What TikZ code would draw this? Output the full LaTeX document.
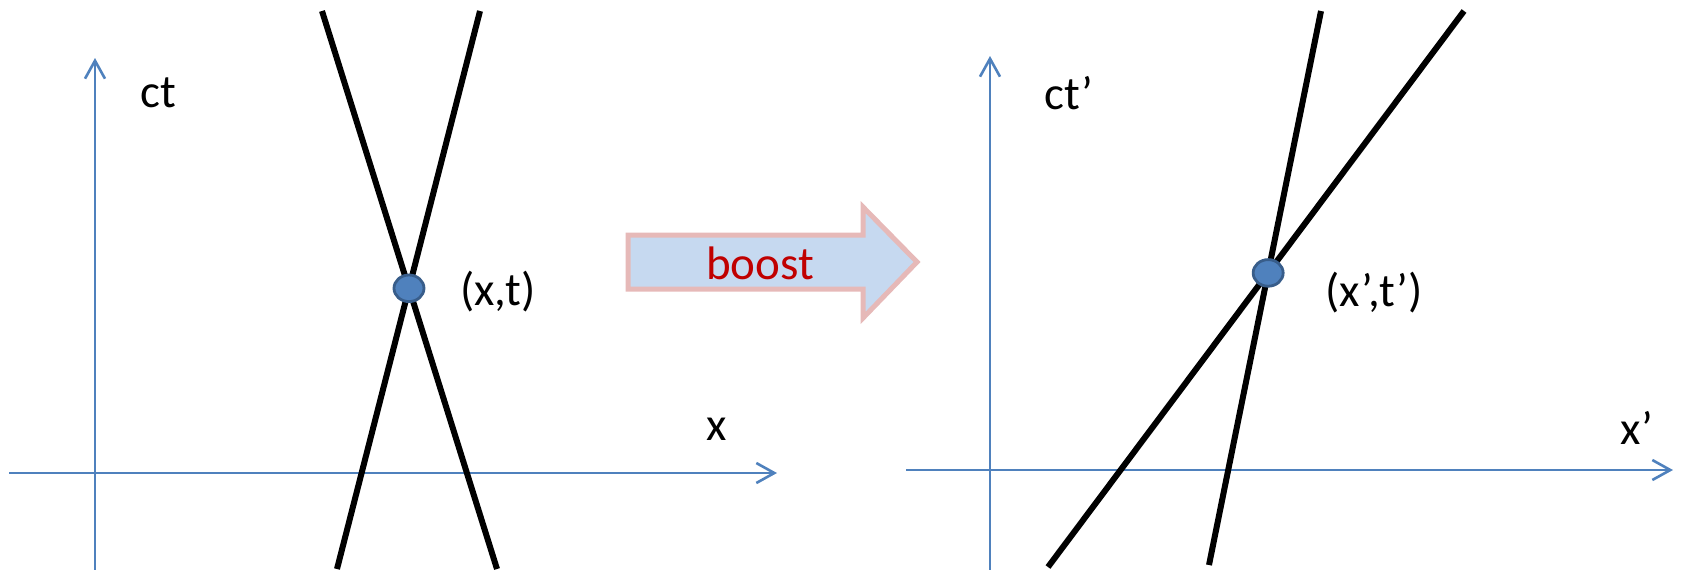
\documentclass[tikz,border=0pt]{standalone}
\usepackage{fontspec}
\setmainfont{Carlito}
\usepackage{tikz}
\usetikzlibrary{arrows.meta,calc,positioning,shapes.geometric}
\definecolor{axisBlue}{HTML}{4F81BD}
\definecolor{dotEdge}{HTML}{385D8A}
\definecolor{boostFill}{HTML}{C6D9F0}
\definecolor{boostEdge}{HTML}{E6B9B8}
\definecolor{boostText}{HTML}{C00000}
\tikzset{
  axisline/.style={draw=axisBlue, line width=1.3pt,
    -{Straight Barb[length=9pt,width=10pt,line width=1.3pt]}},
  worldline/.style={draw=black, line width=3pt},
  eventdot/.style={ellipse, fill=axisBlue, draw=dotEdge, line width=1.4pt,
    minimum width=15pt, minimum height=13.3pt, inner sep=0pt},
  axislabel/.style={font=\fontsize{23.5}{28}\selectfont, text=black, inner sep=0pt},
  boostshape/.style={fill=boostFill, draw=boostEdge, line width=2.5pt,
    line join=miter},
}
\begin{document}
\begin{tikzpicture}[x=0.5pt,y=-0.5pt]
  \path[use as bounding box] (0,0) rectangle (1681,569);

  % left frame: x, ct
  \coordinate (xL0) at (9,473);
  \coordinate (xL1) at (777,473);
  \coordinate (tL0) at (95,572);
  \coordinate (tL1) at (95,58);
  \draw[axisline] (xL0) -- (xL1);
  \draw[axisline] (tL0) -- (tL1);
  \node[axislabel] (ctL) at (158,93) {ct};
  \node[axislabel] (xL) at (717,429) {x};

  \coordinate (aL0) at (322,11);
  \coordinate (aL1) at (497,569);
  \coordinate (bL0) at (480,11);
  \coordinate (bL1) at (337,569);
  \draw[worldline] (aL0) -- (aL1);
  \draw[worldline] (bL0) -- (bL1);
  \node[eventdot] (evL) at (intersection of aL0--aL1 and bL0--bL1) {};
  \node[axislabel] (evLlab) at (498,292) {(x,t)};

  % boost arrow
  \draw[boostshape] (628,235) -- (863,235) -- (863,207) -- (917,262)
    -- (863,318) -- (863,289) -- (628,289) -- cycle;
  \node[axislabel,text=boostText] (boost) at (760,263) {boost};

  % right frame: x', ct'
  \coordinate (xR0) at (906,470);
  \coordinate (xR1) at (1673,470);
  \coordinate (tR0) at (990,572);
  \coordinate (tR1) at (990,56);
  \draw[axisline] (xR0) -- (xR1);
  \draw[axisline] (tR0) -- (tR1);
  \node[axislabel] (ctR) at (1069,93) {ct’};
  \node[axislabel] (xR) at (1637,428) {x’};

  \coordinate (aR0) at (1321,11);
  \coordinate (aR1) at (1209,565);
  \coordinate (bR0) at (1464,11);
  \coordinate (bR1) at (1048,567);
  \draw[worldline] (aR0) -- (aR1);
  \draw[worldline] (bR0) -- (bR1);
  \node[eventdot] (evR) at (intersection of aR0--aR1 and bR0--bR1) {};
  \node[axislabel] (evRlab) at (1374,293) {(x’,t’)};
\end{tikzpicture}
\end{document}
